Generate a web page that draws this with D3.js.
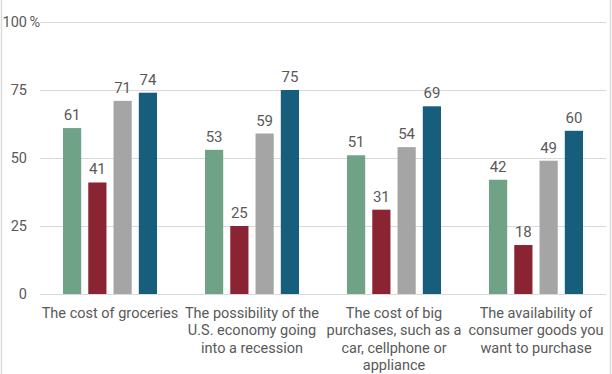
<!DOCTYPE html>
<html>
<head>
<meta charset="utf-8">
<script src="https://cdn.jsdelivr.net/npm/d3@7"></script>
<style>
  body { margin: 0; background: #fff; }
  text { font-family: Roboto, "Noto Sans", sans-serif; fill: #595959; }
</style>
</head>
<body>
<div id="chart"></div>
<script>
// categories and series
var categories = [
  ['The cost of groceries'],
  ['The possibility of the', 'U.S. economy going', 'into a recession'],
  ['The cost of big', 'purchases, such as a', 'car, cellphone or', 'appliance'],
  ['The availability of', 'consumer goods you', 'want to purchase']
];
var seriesA = [61, 53, 51, 42];
var seriesB = [41, 25, 31, 18];
var seriesC = [71, 59, 54, 49];
var seriesD = [74, 75, 69, 60];
var yTicks = [0, 25, 50, 75, 100];

var series = [seriesA, seriesB, seriesC, seriesD];
var colors = ['#6fa287', '#8a2432', '#a5a5a5', '#175e7c'];

var width = 612, height = 374;
var svg = d3.select('#chart').append('svg')
  .attr('width', width)
  .attr('height', height);

// frame lines left and right
svg.append('line').attr('x1', 1.5).attr('x2', 1.5).attr('y1', 0).attr('y2', height)
  .attr('stroke', '#dcdcdc').attr('stroke-width', 1.5);
svg.append('line').attr('x1', 610.5).attr('x2', 610.5).attr('y1', 0).attr('y2', height)
  .attr('stroke', '#dcdcdc').attr('stroke-width', 1.5);

var x = d3.scaleBand()
  .domain(d3.range(categories.length))
  .range([39, 607]);

var y = d3.scaleLinear()
  .domain([0, 100])
  .range([294, 22]);

var inner = d3.scaleBand()
  .domain(d3.range(series.length))
  .range([-47, 47])
  .paddingInner(0.28);

// gridlines
svg.append('g').selectAll('line')
  .data(yTicks)
  .enter().append('line')
  .attr('x1', 40).attr('x2', 606)
  .attr('y1', function (d) { return y(d) + 0.5; })
  .attr('y2', function (d) { return y(d) + 0.5; })
  .attr('stroke', '#d9d9d9')
  .attr('stroke-width', 1);

// tick labels
svg.append('g').selectAll('text')
  .data(yTicks)
  .enter().append('text')
  .attr('x', 27)
  .attr('y', function (d) { return y(d) + 5; })
  .attr('text-anchor', 'end')
  .style('font-size', '14.5px')
  .text(function (d) { return d; });
svg.append('text')
  .attr('x', 29.5)
  .attr('y', y(100) + 5)
  .style('font-size', '14.5px')
  .text('%');

// bars
var groups = svg.append('g').selectAll('g')
  .data(categories)
  .enter().append('g')
  .attr('transform', function (d, i) { return 'translate(' + (x(i) + x.bandwidth() / 2) + ',0)'; });

groups.each(function (c, i) {
  var g = d3.select(this);
  series.forEach(function (s, j) {
    g.append('rect')
      .attr('x', inner(j))
      .attr('y', y(s[i]))
      .attr('width', inner.bandwidth())
      .attr('height', y(0) - y(s[i]))
      .attr('fill', colors[j]);
    g.append('text')
      .attr('x', inner(j) + inner.bandwidth() / 2)
      .attr('y', y(s[i]) - 8)
      .attr('text-anchor', 'middle')
      .style('font-size', '15px')
      .text(s[i]);
  });
  // category label
  var t = g.append('text')
    .attr('text-anchor', 'middle')
    .style('font-size', '14.5px');
  c.forEach(function (line, k) {
    t.append('tspan')
      .attr('x', 0)
      .attr('y', 318 + k * 17.3)
      .text(line);
  });
});
</script>
</body>
</html>
